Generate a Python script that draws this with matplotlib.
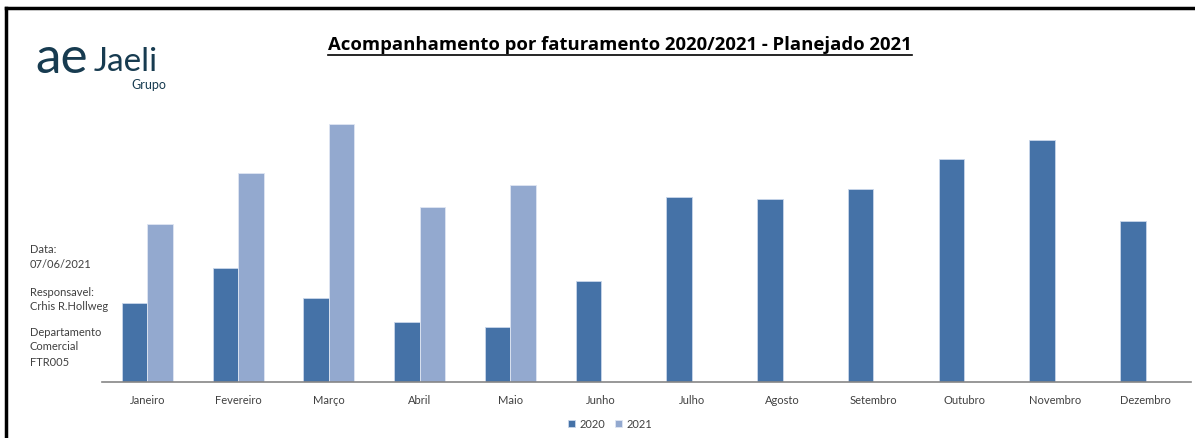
import matplotlib
matplotlib.use("Agg")
import matplotlib.pyplot as plt
from matplotlib.lines import Line2D
import numpy as np

# Monthly billing (relative units)
meses = ["Janeiro", "Fevereiro", "Março", "Abril", "Maio", "Junho",
         "Julho", "Agosto", "Setembro", "Outubro", "Novembro", "Dezembro"]
fat_2020 = [78.7, 113.7, 83.7, 59.7, 55.3, 101.0, 184.7, 182.7, 192.7, 222.7, 242.0, 161.0]
fat_2021 = [158.0, 209.3, 257.7, 175.3, 197.0, None, None, None, None, None, None, None]
series_labels = ["2020", "2021"]

cor_2020 = "#4572A7"
cor_2021 = "#93A9CF"
texto = "#404040"

W, H = 1195, 438
fig = plt.figure(figsize=(W / 100, H / 100), dpi=100)
plt.rcParams['font.family'] = ['Lato', 'DejaVu Sans']

def fx(px):
    return px / W

def fy(py):
    return 1 - py / H

ax = fig.add_axes([fx(102), fy(382), fx(1191) - fx(102), fy(100) - fy(382)])

x = np.arange(len(meses))
w = 0.28
v21 = [np.nan if v is None else v for v in fat_2021]
ax.bar(x - w / 2, fat_2020, width=w, color=cor_2020, edgecolor="#c9d6ea",
       linewidth=0.6, label=series_labels[0], zorder=2)
ax.bar(x + w / 2, v21, width=w, color=cor_2021, edgecolor="#dfe6f2",
       linewidth=0.6, label=series_labels[1], zorder=2)

ax.set_xlim(-0.5, len(meses) - 0.5)
ax.set_ylim(0, 282)
for s in ["top", "right", "left"]:
    ax.spines[s].set_visible(False)
ax.spines["bottom"].set_color("#868686")
ax.spines["bottom"].set_linewidth(1.2)
ax.set_yticks([])
ax.set_xticks(x)
ax.set_xticklabels(meses, fontsize=8, color=texto)
ax.tick_params(axis="x", length=0, pad=9)

# Legend below the axis
leg = fig.legend(loc="center", bbox_to_anchor=(fx(610), fy(424)), ncol=2,
                 frameon=False, fontsize=8, handlelength=0.6, handleheight=0.6,
                 handletextpad=0.4, columnspacing=0.9)
for t in leg.get_texts():
    t.set_color(texto)

# Title with underline
title = fig.text(fx(620), fy(45), "Acompanhamento por faturamento 2020/2021 - Planejado 2021",
                 ha="center", va="center", fontsize=13.3, fontweight="bold", color="black",
                 family=["Open Sans", "DejaVu Sans"])
fig.canvas.draw()
bb = title.get_window_extent(fig.canvas.get_renderer())
fig.add_artist(Line2D([bb.x0 / W, bb.x1 / W], [fy(55), fy(55)],
                      transform=fig.transFigure, color="black", linewidth=1.2))

# Logo
logo = "#173b50"
fig.text(fx(35), fy(73), "ae", fontsize=37, color=logo, ha="left", va="baseline",
         family=["Lato", "DejaVu Sans"])
fig.text(fx(94), fy(71), "Jaeli", fontsize=24, color=logo, ha="left", va="baseline",
         family=["Lato", "DejaVu Sans"])
fig.text(fx(166), fy(89), "Grupo", fontsize=9, color=logo, ha="right", va="baseline",
         family=["Lato", "DejaVu Sans"])

# Side notes
notas = [("Data:", 249), ("07/06/2021", 264), ("Responsavel:", 292),
         ("Crhis R.Hollweg", 306), ("Departamento", 333), ("Comercial", 347),
         ("FTR005", 362)]
for txt, py in notas:
    fig.text(fx(30), fy(py), txt, fontsize=8, color=texto, ha="left", va="center")

# Frame lines (top and left)
fig.add_artist(Line2D([fx(6), 1], [fy(8), fy(8)], transform=fig.transFigure,
                      color="black", linewidth=2.5))
fig.add_artist(Line2D([fx(6.5), fx(6.5)], [fy(8), 0], transform=fig.transFigure,
                      color="black", linewidth=2.5))

fig.savefig("out.png", dpi=100)
